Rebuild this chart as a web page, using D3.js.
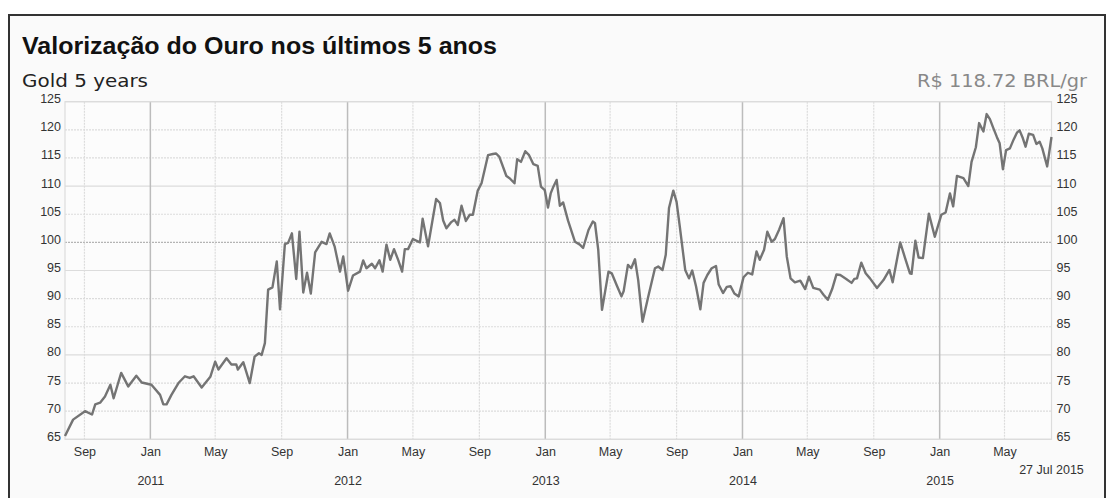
<!DOCTYPE html>
<html><head><meta charset="utf-8">
<script src="https://cdn.jsdelivr.net/npm/d3@7"></script>
<style>body{margin:0;background:#fff}svg{display:block}</style>
</head><body>
<svg id="chart" width="1114" height="498"></svg>
<script>
const titleText = "Valorização do Ouro nos últimos 5 anos";
const subtitleLeft = "Gold 5 years";
const subtitleRight = "R$ 118.72 BRL/gr";
const endLabel = "27 Jul 2015";

const dates = [
"2010-07-27","2010-08-11","2010-09-02","2010-09-15","2010-09-21","2010-09-30","2010-10-09","2010-10-19","2010-10-25","2010-11-08",
"2010-11-21","2010-12-06","2010-12-16","2011-01-03","2011-01-19","2011-01-25","2011-01-31","2011-02-09","2011-02-22","2011-03-06",
"2011-03-15","2011-03-22","2011-04-06","2011-04-22","2011-05-01","2011-05-07","2011-05-22","2011-05-31","2011-06-09","2011-06-12",
"2011-06-22","2011-07-04","2011-07-13","2011-07-21","2011-07-26","2011-08-01","2011-08-07","2011-08-15","2011-08-23","2011-08-29",
"2011-09-07","2011-09-13","2011-09-20","2011-09-28","2011-10-04","2011-10-11","2011-10-18","2011-10-25","2011-11-02","2011-11-14",
"2011-11-23","2011-11-29","2011-12-08","2011-12-18","2011-12-24","2012-01-02","2012-01-11","2012-01-24","2012-01-30","2012-02-05",
"2012-02-15","2012-02-21","2012-02-29","2012-03-06","2012-03-13","2012-03-20","2012-03-27","2012-04-04","2012-04-11","2012-04-16",
"2012-04-22","2012-05-01","2012-05-14","2012-05-19","2012-05-29","2012-06-13","2012-06-20","2012-06-26","2012-07-02","2012-07-11",
"2012-07-17","2012-07-23","2012-07-30","2012-08-07","2012-08-14","2012-08-20","2012-08-29","2012-09-05","2012-09-17","2012-09-26",
"2012-10-02","2012-10-08","2012-10-21","2012-10-27","2012-11-05","2012-11-10","2012-11-17","2012-11-25","2012-12-02","2012-12-10",
"2012-12-18","2012-12-24","2012-12-31","2013-01-06","2013-01-11","2013-01-16","2013-01-22","2013-01-28","2013-02-03","2013-02-12",
"2013-02-25","2013-03-06","2013-03-12","2013-03-22","2013-03-30","2013-04-03","2013-04-09","2013-04-16","2013-04-28","2013-05-04",
"2013-05-14","2013-05-22","2013-05-26","2013-06-03","2013-06-09","2013-06-16","2013-06-22","2013-06-30","2013-07-10","2013-07-23",
"2013-07-29","2013-08-06","2013-08-12","2013-08-18","2013-08-26","2013-09-01","2013-09-07","2013-09-17","2013-09-24","2013-09-30",
"2013-10-07","2013-10-15","2013-10-21","2013-10-28","2013-11-05","2013-11-13","2013-11-18","2013-11-26","2013-12-03","2013-12-10",
"2013-12-17","2013-12-25","2014-01-03","2014-01-11","2014-01-19","2014-01-27","2014-02-02","2014-02-10","2014-02-16","2014-02-24",
"2014-03-02","2014-03-10","2014-03-18","2014-03-24","2014-03-31","2014-04-08","2014-04-18","2014-04-27","2014-05-04","2014-05-12",
"2014-05-24","2014-05-31","2014-06-08","2014-06-16","2014-06-24","2014-07-01","2014-07-12","2014-07-22","2014-07-27","2014-08-01",
"2014-08-09","2014-08-17","2014-08-25","2014-09-07","2014-09-19","2014-09-30","2014-10-06","2014-10-20","2014-10-29","2014-11-07",
"2014-11-10","2014-11-17","2014-11-23","2014-12-01","2014-12-12","2014-12-23","2014-12-27","2015-01-04","2015-01-12","2015-01-20",
"2015-01-26","2015-02-02","2015-02-14","2015-02-23","2015-03-01","2015-03-09","2015-03-15","2015-03-23","2015-03-29","2015-04-04",
"2015-04-10","2015-04-17","2015-04-22","2015-04-28","2015-05-04","2015-05-11","2015-05-18","2015-05-24","2015-05-29","2015-06-04",
"2015-06-09","2015-06-15","2015-06-23","2015-06-29","2015-07-05","2015-07-10","2015-07-19","2015-07-27"
];
const prices = [
65.6,68.5,70.0,69.4,71.2,71.5,72.6,74.7,72.3,76.8,
74.4,76.3,75.1,74.7,72.9,71.2,71.2,72.9,75.0,76.2,
75.9,76.2,74.2,76.1,78.8,77.4,79.4,78.3,78.3,77.4,
78.7,75.0,79.7,80.3,80.0,82.1,91.6,92.0,96.6,88.1,
99.7,99.9,101.6,93.5,101.9,91.1,94.6,90.9,98.2,100.1,
99.7,101.6,99.3,94.8,97.5,91.4,94.1,94.8,96.8,95.4,
96.2,95.4,96.8,94.8,99.6,96.9,98.8,96.8,94.8,98.8,
98.8,100.6,100.0,104.2,99.3,107.7,107.0,103.9,102.5,103.6,
104.0,103.1,106.5,103.8,104.9,104.9,109.2,110.5,115.5,115.7,
115.8,115.2,111.8,111.4,110.5,114.8,114.3,116.2,115.5,113.9,
113.6,109.9,109.3,106.2,108.7,109.9,111.1,106.5,107.1,103.9,
100.1,99.6,99.0,102.2,103.7,103.4,98.7,88.0,94.8,94.5,
92.2,90.4,91.3,96.0,95.4,97.0,93.3,85.9,90.1,95.4,
95.7,95.1,97.8,106.1,109.2,107.2,102.8,95.1,93.6,95.0,
92.2,88.1,92.8,94.2,95.4,95.8,92.5,91.0,92.1,92.2,
90.9,90.4,93.8,94.6,94.3,98.4,96.9,98.7,101.9,100.1,
100.6,102.3,104.3,97.5,93.6,92.9,93.2,91.7,93.9,91.9,
91.6,90.7,89.8,91.7,94.3,94.2,93.5,92.8,93.5,93.6,
96.4,94.5,93.6,91.9,93.3,95.1,92.9,100.0,97.2,94.5,
94.4,100.3,97.3,97.2,105.1,101.0,102.3,104.9,105.3,108.7,
106.4,111.8,111.4,110.0,114.3,116.9,121.2,119.7,122.8,121.9,
120.4,118.7,117.6,113.0,116.4,116.7,118.3,119.5,119.9,118.5,
117.0,119.3,119.1,117.5,117.9,116.7,113.5,118.72
];
const yTicks = [65,70,75,80,85,90,95,100,105,110,115,120,125];
const yMajor = [65,80,95,110,125];
const yRef = [100];
const monthTicks = ["2010-09-01","2011-01-01","2011-05-01","2011-09-01","2012-01-01","2012-05-01","2012-09-01",
  "2013-01-01","2013-05-01","2013-09-01","2014-01-01","2014-05-01","2014-09-01","2015-01-01","2015-05-01"];
const yearTicks = ["2011-01-01","2012-01-01","2013-01-01","2014-01-01","2015-01-01"];
const xDomain = ["2010-07-27","2015-07-27"];

const parse = d3.timeParse("%Y-%m-%d");
const data = dates.map((d,i)=>({date:parse(d), value:prices[i]}));

const L=65, R=1051.5, T=101.7, B=439.3;
const svg = d3.select("#chart");
const x = d3.scaleTime().domain(xDomain.map(parse)).range([L,R]);
const y = d3.scaleLinear().domain([65,125]).range([B,T]);

// frame
svg.append("rect").attr("x",9).attr("y",15).attr("width",1096).attr("height",500)
  .attr("fill","#fafafa").attr("stroke","#333").attr("stroke-width",2);

svg.append("text").attr("x",22).attr("y",54).text(titleText)
  .attr("textLength",475).attr("lengthAdjust","spacingAndGlyphs")
  .style("font-family","'Liberation Sans',Arial,sans-serif").style("font-weight","bold")
  .style("font-size","23px").attr("fill","#111");
svg.append("text").attr("x",22).attr("y",87).text(subtitleLeft)
  .attr("textLength",126).attr("lengthAdjust","spacingAndGlyphs")
  .style("font-family","'DejaVu Sans',Verdana,sans-serif").style("font-size","17px").attr("fill","#222");
svg.append("text").attr("x",917).attr("y",87).text(subtitleRight)
  .attr("textLength",170).attr("lengthAdjust","spacingAndGlyphs")
  .style("font-family","'DejaVu Sans',Verdana,sans-serif").style("font-size","17px").attr("fill","#888");

svg.append("rect").attr("x",L).attr("y",T).attr("width",R-L).attr("height",B-T).attr("fill","#fcfcfc");

const g = svg.append("g");
// horizontal grid
g.selectAll("line.h").data(yTicks).join("line")
  .attr("x1",L).attr("x2",R).attr("y1",d=>y(d)).attr("y2",d=>y(d))
  .attr("stroke",d=>yRef.includes(d)?"#b4b4b4":"#dcdcdc")
  .attr("stroke-width",1.2)
  .attr("stroke-dasharray",d=>(yMajor.includes(d))?null:"2,1");
// vertical grid
const mt = monthTicks.map(parse);
g.selectAll("line.v").data(mt).join("line")
  .attr("x1",d=>x(d)).attr("x2",d=>x(d)).attr("y1",T).attr("y2",B)
  .attr("stroke",d=>d.getMonth()===0?"#bcbcbc":"#dcdcdc")
  .attr("stroke-width",d=>d.getMonth()===0?1.5:1.2)
  .attr("stroke-dasharray",d=>d.getMonth()===0?null:"2,1");
// plot border
g.append("rect").attr("x",L).attr("y",T).attr("width",R-L).attr("height",B-T)
  .attr("fill","none").attr("stroke","#dcdcdc").attr("stroke-width",1.2);

// line
svg.append("path").datum(data)
  .attr("d",d3.line().x(d=>x(d.date)).y(d=>y(d.value)))
  .attr("fill","none").attr("stroke","#747474").attr("stroke-width",2.4).attr("stroke-linejoin","round");

const tickFont = sel => sel.style("font-family","'Liberation Sans',Arial,sans-serif").style("font-size","12.5px").attr("fill","#333");

// axes
const ya = svg.append("g").attr("transform",`translate(${L-3},-3)`)
  .call(d3.axisLeft(y).tickValues(yTicks).tickSize(0).tickPadding(1));
ya.select(".domain").remove();
ya.selectAll("text").call(tickFont);
const yb = svg.append("g").attr("transform",`translate(${R+4},-3)`)
  .call(d3.axisRight(y).tickValues(yTicks).tickSize(0).tickPadding(1));
yb.select(".domain").remove();
yb.selectAll("text").call(tickFont);

const xa = svg.append("g").attr("transform",`translate(0,${B+5})`)
  .call(d3.axisBottom(x).tickValues(mt).tickSize(0).tickFormat(d3.timeFormat("%b")));
xa.select(".domain").remove();
xa.selectAll("text").call(tickFont);
const xy = svg.append("g").attr("transform",`translate(0,${B+34})`)
  .call(d3.axisBottom(x).tickValues(yearTicks.map(parse)).tickSize(0).tickFormat(d3.timeFormat("%Y")));
xy.select(".domain").remove();
xy.selectAll("text").call(tickFont);

svg.append("text").attr("x",R).attr("y",474).attr("text-anchor","middle").text(endLabel).call(tickFont);
</script>
</body></html>
